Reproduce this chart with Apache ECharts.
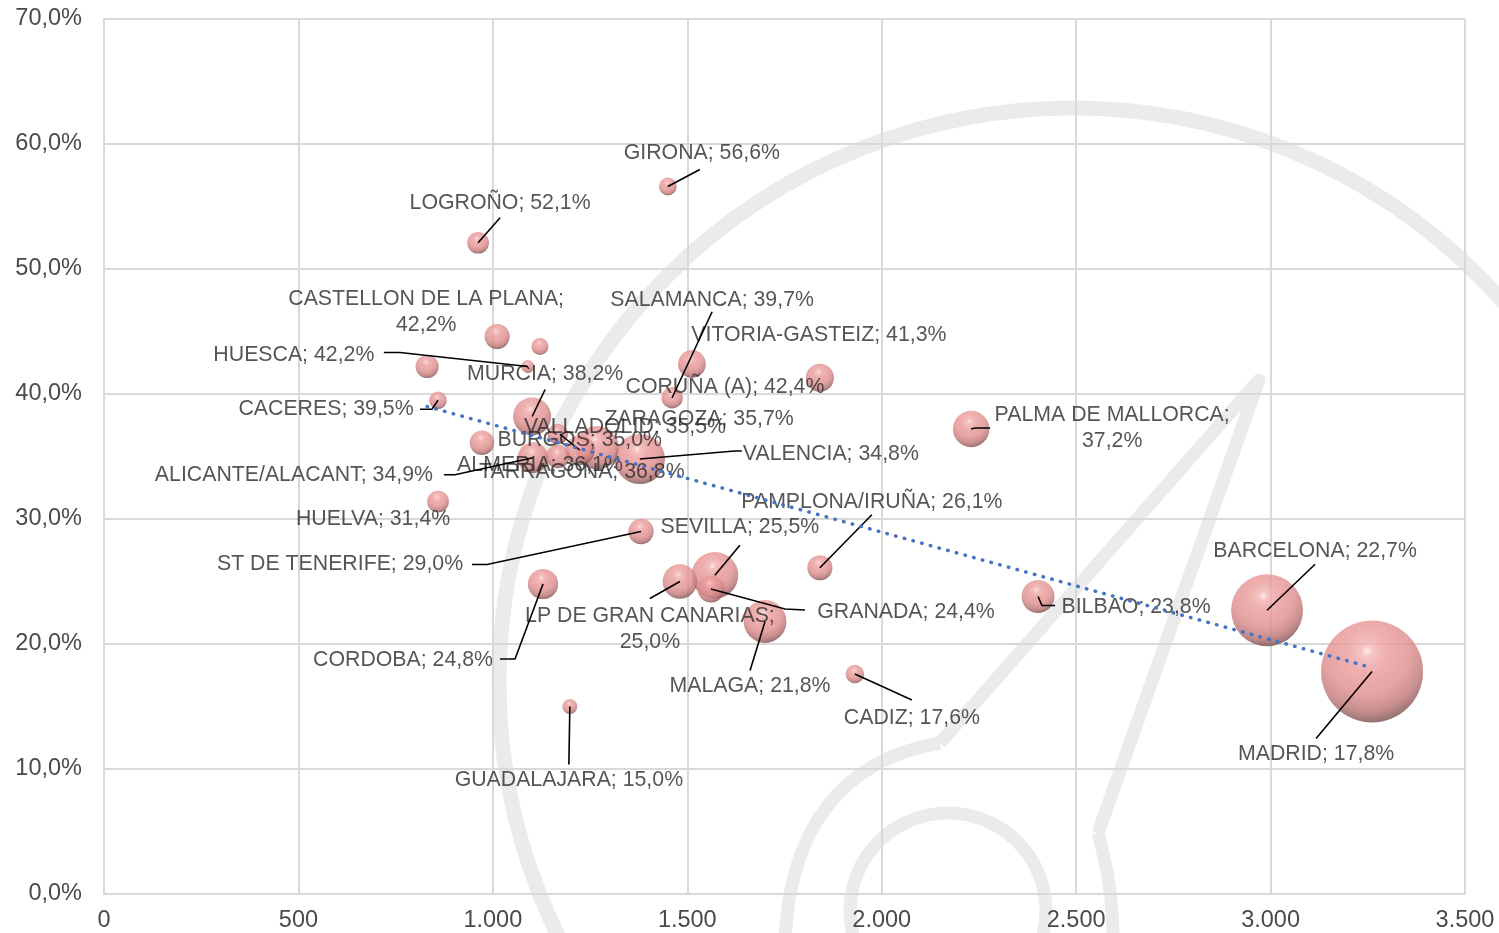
<!DOCTYPE html>
<html>
<head>
<meta charset="utf-8">
<script src="https://cdn.jsdelivr.net/npm/echarts@6/dist/echarts.min.js"></script>
<style>
  html, body { margin: 0; padding: 0; background: #fff; }
  #chart { width: 1499px; height: 933px; }
</style>
</head>
<body>
<div id="chart"></div>
<script>
// cities, x value, share (%), population (thousands) -> bubble size
var cities = ['MADRID', 'BARCELONA', 'VALENCIA', 'SEVILLA', 'ZARAGOZA', 'MALAGA', 'MURCIA',
  'PALMA DE MALLORCA', 'LP DE GRAN CANARIAS', 'BILBAO', 'ALICANTE/ALACANT', 'CORDOBA', 'VALLADOLID',
  'VITORIA-GASTEIZ', 'CORUÑA (A)', 'GRANADA', 'ST DE TENERIFE', 'PAMPLONA/IRUÑA', 'ALMERIA', 'BURGOS',
  'CASTELLON DE LA PLANA', 'LOGROÑO', 'SALAMANCA', 'HUELVA', 'TARRAGONA', 'CADIZ', 'GIRONA', 'CACERES',
  'GUADALAJARA', 'HUESCA', '', ''];
var xVals = [3261, 2991, 1378, 1571, 1268, 1700, 1101,
  2230, 1481, 2402, 1103, 1129, 1224,
  1841, 1512, 1561, 1381, 1841, 972, 1167,
  831, 962, 1461, 859, 1167, 1931, 1450, 859,
  1198, 1090, 1011, 1121];
var yVals = [17.8, 22.7, 34.8, 25.5, 35.7, 21.8, 38.2,
  37.2, 25.0, 23.8, 34.9, 24.8, 35.5,
  41.3, 42.4, 24.4, 29.0, 26.1, 36.1, 35.0,
  42.2, 52.1, 39.7, 31.4, 36.8, 17.6, 56.6, 39.5,
  15.0, 42.2, 44.6, 43.8];
var popVals = [3300, 1640, 800, 690, 600, 580, 460,
  420, 380, 345, 300, 290, 280,
  250, 245, 230, 205, 200, 190, 175,
  170, 150, 145, 150, 135, 108, 100, 96,
  70, 53, 200, 92];
// trend line ends
var trendX = [831, 3250];
var trendY = [39.0, 18.2];

// label placement: offset of label centre from bubble centre (px)
var labelOffsets = [[-56, 83], [48, -59], [191, -5], [25, -48], [102, -29], [-15, 65], [13, -42],
  [141, -1], [-30, 48], [98, 11], [-239, 17], [-140, 76], [45, -23],
  [-1, -43], [33, 23], [195, 23], [-301, 33], [52, -66], [58, 22], [22, -16],
  [-1, -54], [22, -40], [40, -98], [-65, 18], [24, 38], [57, 44], [34, -33], [-112, 9],
  [-1, 74], [-234, -11], [0, 0], [0, 0]];
// leader line bends/ends, relative to bubble centre (null = no leader)
var leaders = [[[-56, 67]], [[48, -46]], [[95, -8], [102, -8]], [[25, -30]], null, [[-15, 49]], [[13, -27]],
  [[4, -1], [19, -1]], [[-30, 17]], [[4, 9], [17, 9]], [[-78, 17], [-89, 17]], [[-28, 75], [-43, 75]], [[-20, -16]],
  null, null, [[74, 20], [94, 21]], [[-154, 33], [-169, 33]], [[52, -53]], null, null,
  null, [[22, -25]], [[40, -86]], null, null, [[57, 26]], [[32, -17]], [[-6, 9], [-18, 9]],
  [[-1, 58]], [[-128, -14], [-144, -14]], null, null];
var wrapped = ['CASTELLON DE LA PLANA', 'PALMA DE MALLORCA', 'LP DE GRAN CANARIAS'];

var maxPop = Math.max.apply(null, popVals);
var fmtPct = function (v) { return v.toFixed(1).replace('.', ',') + '%'; };

var bubbleData = cities.map(function (c, i) {
  return {
    name: c,
    value: [xVals[i], yVals[i], popVals[i]],
    label: { show: c !== '' }
  };
});

var chart = echarts.init(document.getElementById('chart'));
var wm = '#ebebeb';

var option = {
  backgroundColor: '#ffffff',
  animation: false,
  graphic: {
    elements: [
      { type: 'circle', z: -10, silent: true, shape: { cx: 1073, cy: 682, r: 574 },
        style: { fill: null, stroke: wm, lineWidth: 15 } },
      { type: 'circle', z: -10, silent: true, shape: { cx: 948, cy: 911, r: 98 },
        style: { fill: null, stroke: wm, lineWidth: 13 } },
      { type: 'bezierCurve', z: -10, silent: true,
        shape: { x1: 785, y1: 940, cpx1: 790, cpy1: 830, cpx2: 840, cpy2: 760, x2: 940, y2: 743 },
        style: { fill: null, stroke: wm, lineWidth: 13 } },
      { type: 'polyline', z: -10, silent: true,
        shape: { points: [[940, 743], [1259, 380], [1098, 833]] },
        style: { fill: null, stroke: wm, lineWidth: 13, lineJoin: 'round' } },
      { type: 'bezierCurve', z: -10, silent: true,
        shape: { x1: 1098, y1: 833, cpx1: 1108, cpy1: 870, cpx2: 1113, cpy2: 900, x2: 1113, y2: 940 },
        style: { fill: null, stroke: wm, lineWidth: 13 } }
    ]
  },
  grid: { left: 104, right: 34, top: 19, bottom: 38 },
  xAxis: {
    type: 'value', min: 0, max: 3500, interval: 500,
    axisLine: { show: true, lineStyle: { color: '#d9d9d9', width: 2 } },
    axisTick: { show: false },
    splitLine: { lineStyle: { color: '#d9d9d9', width: 2 } },
    axisLabel: {
      color: '#4a4a4a', fontSize: 23.5, fontFamily: 'Liberation Sans', margin: 15,
      formatter: function (v) { return v >= 1000 ? Math.floor(v / 1000) + '.' + String(v % 1000).padStart(3, '0') : String(v); }
    }
  },
  yAxis: {
    type: 'value', min: 0, max: 70, interval: 10,
    axisLine: { show: true, lineStyle: { color: '#d9d9d9', width: 2 } },
    axisTick: { show: false },
    splitLine: { lineStyle: { color: '#d9d9d9', width: 2 } },
    axisLabel: {
      color: '#4a4a4a', fontSize: 23.5, fontFamily: 'Liberation Sans', margin: 22,
      formatter: function (v) { return fmtPct(v); }
    }
  },
  series: [
    {
      type: 'scatter',
      z: 3,
      data: bubbleData,
      symbolSize: function (val) { return 102 * Math.sqrt(val[2] / maxPop); },
      itemStyle: {
        color: {
          type: 'radial', x: 0.45, y: 0.3, r: 0.75,
          colorStops: [
            { offset: 0, color: '#fde6e6' },
            { offset: 0.08, color: '#f4b4b4' },
            { offset: 0.25, color: '#eb9c9c' },
            { offset: 0.55, color: '#e08e8e' },
            { offset: 0.78, color: '#bb7373' },
            { offset: 0.93, color: '#7d4f4f' },
            { offset: 1, color: '#8e6060' }
          ]
        }
      },
      label: {
        show: true, position: 'top',
        color: '#2b2b2b', fontSize: 21.3, fontFamily: 'Liberation Sans', lineHeight: 26,
        align: 'center',
        formatter: function (p) {
          var sep = wrapped.indexOf(p.name) >= 0 ? '\n' : ' ';
          return p.name + ';' + sep + fmtPct(p.value[1]);
        }
      },
      labelLayout: function (p) {
        var off = labelOffsets[p.dataIndex];
        return {
          x: p.rect.x + p.rect.width / 2 + off[0],
          y: p.rect.y + p.rect.height / 2 + off[1],
          align: 'center', verticalAlign: 'middle'
        };
      }
    },
    {
      // leader lines from each bubble centre to its label
      type: 'custom',
      z: 4,
      silent: true,
      data: cities.map(function (c, i) { return [xVals[i], yVals[i]]; }),
      renderItem: function (params, api) {
        var ld = leaders[params.dataIndex];
        if (!ld) return null;
        var c = api.coord([api.value(0), api.value(1)]);
        var pts = [c].concat(ld.map(function (d) { return [c[0] + d[0], c[1] + d[1]]; }));
        return {
          type: 'polyline',
          shape: { points: pts },
          style: { fill: null, stroke: '#000', lineWidth: 1.6 }
        };
      }
    },
    {
      type: 'line',
      z: 5,
      silent: true,
      symbol: 'none',
      data: trendX.map(function (x, i) { return [x, trendY[i]]; }),
      lineStyle: { color: '#4472c4', width: 3.5, type: [0.5, 8.5], cap: 'round' }
    }
  ]
};
chart.setOption(option);
</script>
</body>
</html>
